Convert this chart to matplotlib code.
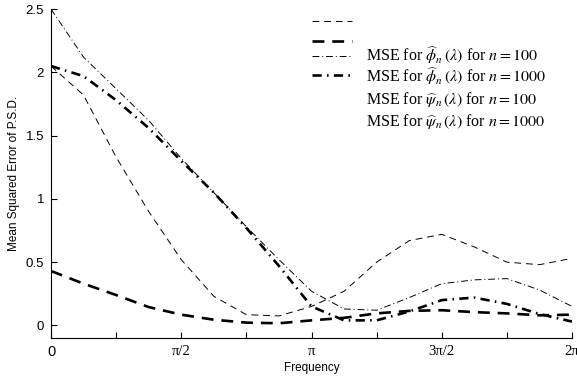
"""
MSE della densita spettrale stimata al variare della frequenza
"""

import numpy as np
import matplotlib
matplotlib.use("Agg")
import matplotlib.pyplot as plt

# frequenze in multipli di pi/8
freq = np.arange(17) * np.pi / 8

# curve
phi_100 = [2.05, 1.82, 1.33, 0.90, 0.52, 0.23, 0.085, 0.075, 0.15,
           0.27, 0.50, 0.67, 0.72, 0.62, 0.50, 0.48, 0.53]
phi_1000 = [0.43, 0.33, 0.24, 0.145, 0.085, 0.045, 0.022, 0.017, 0.04,
            0.06, 0.095, 0.115, 0.12, 0.105, 0.095, 0.08, 0.085]
psi_100 = [2.50, 2.12, 1.87, 1.62, 1.32, 1.05, 0.78, 0.52, 0.27,
           0.13, 0.12, 0.22, 0.33, 0.36, 0.37, 0.28, 0.15]
psi_1000 = [2.05, 1.97, 1.78, 1.56, 1.30, 1.05, 0.77, 0.47, 0.15,
            0.04, 0.04, 0.11, 0.20, 0.22, 0.17, 0.09, 0.03]

labels = [r"MSE for $\widehat{\phi}_n\,(\lambda)$ for $n = 100$",
          r"MSE for $\widehat{\phi}_n\,(\lambda)$ for $n = 1000$",
          r"MSE for $\widehat{\psi}_n\,(\lambda)$ for $n = 100$",
          r"MSE for $\widehat{\psi}_n\,(\lambda)$ for $n = 1000$"]

xtick_labels = ["0", "\u03c0/2", "\u03c0", "3\u03c0/2", "2\u03c0"]

plt.rcParams['mathtext.fontset'] = 'stix'
plt.rcParams['font.sans-serif'] = ['Liberation Sans', 'DejaVu Sans']

W, H = 577, 379
fig = plt.figure(figsize=(W / 100, H / 100), dpi=100)
ax = fig.add_axes([0.0884, 0.108, 0.903, 0.868])

thin_dash = dict(color='black', lw=0.7, dashes=(7, 5))
thick_dash = dict(color='black', lw=1.9, dashes=(4.5, 3))
thin_dd = dict(color='black', lw=0.7, dashes=(7, 3, 1, 3))
thick_dd = dict(color='black', lw=1.9, dashes=(3.5, 2, 0.6, 2))
styles = [thin_dash, thick_dash, thin_dd, thick_dd]

for serie, st in zip([phi_100, phi_1000, psi_100, psi_1000], styles):
    ax.plot(freq, serie, **st)

ax.set_xlim(0, 2 * np.pi)
ax.set_ylim(-0.1, 2.5)
ax.spines['top'].set_visible(False)
ax.spines['right'].set_visible(False)

ax.set_xticks(np.arange(5) * np.pi / 2)
ax.set_xticks(np.arange(9) * np.pi / 4, minor=True)
ax.set_xticklabels(xtick_labels)
for i, t in enumerate(ax.get_xticklabels()):
    if i == 0:
        t.set_fontfamily('Liberation Sans')
    else:
        t.set_fontfamily('Liberation Serif')
    t.set_fontsize(10.5)
ax.set_yticks([0, 0.5, 1, 1.5, 2, 2.5])
ax.set_yticklabels(["0", "0.5", "1", "1.5", "2", "2.5"], fontsize=9.5)
ax.tick_params(direction='in', length=4, width=0.8, pad=5)
ax.tick_params(which='minor', direction='in', length=4, width=0.8)

ax.set_xlabel("Frequency", fontsize=8.5, labelpad=2)
ax.set_ylabel("Mean Squared Error of P.S.D.", fontsize=8.5, labelpad=4)

# legenda fatta a mano: nell'originale righe e testi sono sfasati
line_rows = [21, 41, 56, 75]
text_rows = [61, 82, 104, 126]   # linee di base
for y, st in zip(line_rows, styles):
    fig.add_artist(plt.Line2D([312 / W, 352 / W], [1 - y / H, 1 - y / H],
                              transform=fig.transFigure, **st))
for y, lab in zip(text_rows, labels):
    fig.text(366 / W, 1 - y / H, lab, family='Liberation Serif', fontsize=11.5,
             va='baseline', ha='left')

fig.savefig('out.png', dpi=100)
